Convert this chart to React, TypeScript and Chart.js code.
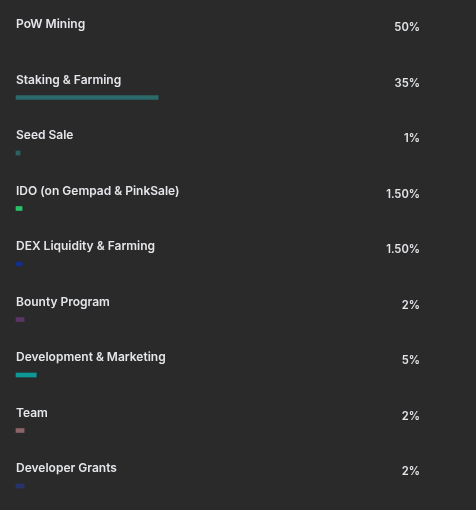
import React, { useEffect, useRef } from "react";
import { Chart, registerables } from "chart.js";

Chart.register(...registerables);

const categories = [
  "PoW Mining",
  "Staking & Farming",
  "Seed Sale",
  "IDO (on Gempad & PinkSale)",
  "DEX Liquidity & Farming",
  "Bounty Program",
  "Development & Marketing",
  "Team",
  "Developer Grants",
];
const values = [50, 35, 1, 1.5, 1.5, 2, 5, 2, 2];
const valueLabels = ["50%", "35%", "1%", "1.50%", "1.50%", "2%", "5%", "2%", "2%"];
const barColors = [
  "#2a2a2a",
  "#2b6a6a",
  "#2c6262",
  "#27c266",
  "#10308a",
  "#5a3666",
  "#0e9898",
  "#8a6466",
  "#27346c",
];

const BG = "#2a2a2a";

const labelPlugin = {
  id: "rowLabels",
  afterDatasetsDraw(chart: any) {
    const { ctx, scales } = chart;
    const y = scales.y;
    ctx.save();
    ctx.fillStyle = "#e4e6ea";
    ctx.textBaseline = "alphabetic";
    categories.forEach((c, i) => {
      const py = y.getPixelForValue(i);
      ctx.font = "600 12px Inter, 'Noto Sans', sans-serif";
      ctx.textAlign = "left";
      ctx.fillText(c, 16, py - 14);
      ctx.font = "600 11.2px Inter, 'Noto Sans', sans-serif";
      ctx.textAlign = "right";
      ctx.fillText(valueLabels[i], 420, py - 11);
    });
    ctx.restore();
  },
};

export default function App() {
  const ref = useRef<HTMLCanvasElement | null>(null);
  useEffect(() => {
    document.body.style.margin = "0";
    document.body.style.background = BG;
    const chart = new Chart(ref.current as HTMLCanvasElement, {
      type: "bar",
      data: {
        labels: categories,
        datasets: [
          {
            data: values,
            backgroundColor: barColors,
            barThickness: 4,
            borderWidth: 0,
            clip: false,
          },
        ],
      },
      options: {
        indexAxis: "y",
        animation: false,
        responsive: false,
        maintainAspectRatio: false,
        layout: { padding: { left: 16, right: 54, top: 42, bottom: 24 } },
        plugins: { legend: { display: false }, tooltip: { enabled: false } },
        scales: {
          x: { display: false, min: 0, max: 100 },
          y: { display: false, offset: false },
        },
      },
      plugins: [labelPlugin],
    });
    return () => chart.destroy();
  }, []);
  return (
    <div style={{ width: 476, height: 510, background: BG, position: "relative" }}>
      <canvas ref={ref} width={476} height={510} style={{ display: "block" }} />
    </div>
  );
}
